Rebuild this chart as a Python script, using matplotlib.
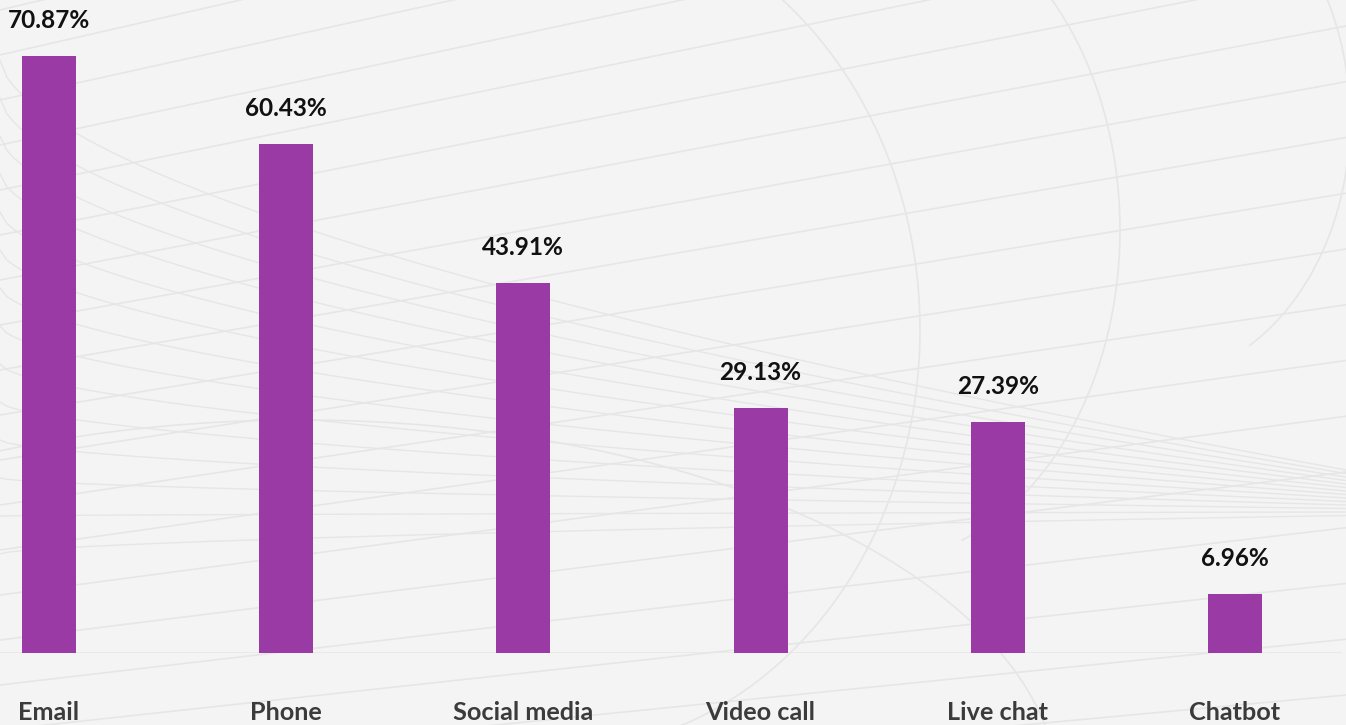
import numpy as np
import matplotlib.pyplot as plt

channels = ["Email", "Phone", "Social media", "Video call", "Live chat", "Chatbot"]
shares = [70.87, 60.43, 43.91, 29.13, 27.39, 6.96]

BAR = "#9a3aa5"
BG = "#f4f4f4"
LINE = "#e6e6e6"

fig = plt.figure(figsize=(13.46, 7.25), dpi=100, facecolor=BG)

# decorative wireframe behind the chart (pixel coordinates, y down)
deco = fig.add_axes([0, 0, 1, 1], zorder=0)
deco.set_xlim(0, 1346)
deco.set_ylim(725, 0)
deco.axis("off")
deco.set_facecolor(BG)
xs = np.linspace(0, 1346, 200)
# fan of slanted strands rising to the right
for k in range(24):
    y0 = -80 + k * 45
    y1 = -420 + k * 40
    deco.plot([0, 1346], [y0, y1 + 0.35 * (k * 45)], color=LINE, lw=1.2)
# strands converging towards the funnel on the right
for k in range(14):
    yl = 60 + k * 38
    yr = 470 + k * 3.5
    t = xs / 1346
    deco.plot(xs, yl + (yr - yl) * t ** 0.6, color=LINE, lw=1.0)
# large curved ribs
for cx, cy, rx, ry, t0, t1 in [(560, 330, 360, 420, -90, 80),
                               (880, 230, 240, 330, -90, 70),
                               (1150, 120, 200, 260, -90, 60),
                               (300, 800, 760, 380, 180, 360)]:
    th = np.radians(np.linspace(t0, t1, 150))
    deco.plot(cx + rx * np.cos(th), cy + ry * np.sin(th), color=LINE, lw=1.2)

ax = fig.add_axes([0, 72 / 725, 1, 653 / 725], zorder=1)
ax.patch.set_alpha(0)
x = np.arange(len(channels))
ax.bar(x, shares, width=0.228, color=BAR, zorder=3)
ax.set_xlim(-0.2066, 5.468)
ax.set_ylim(0, 77.52)
for s in ax.spines.values():
    s.set_visible(False)
ax.set_xticks([])
ax.set_yticks([])
ax.axhline(0, xmin=0, xmax=1340 / 1346, color="#e6e6e6", lw=1.8, zorder=2)

for i, v in enumerate(shares):
    ax.annotate(f"{v:.2f}%", (i, v), xytext=(0, 25.6), textcoords="offset points",
                ha="center", va="center", fontsize=17.6, fontweight="bold",
                family="Lato", color="#111111", annotation_clip=False)
    ax.annotate(channels[i], (i, 0), xytext=(0, -43), textcoords="offset points",
                ha="center", va="center", fontsize=18.2, fontweight="bold",
                family="Lato", color="#3b3b3b", annotation_clip=False)

fig.savefig("out.png", dpi=100, facecolor=BG)
